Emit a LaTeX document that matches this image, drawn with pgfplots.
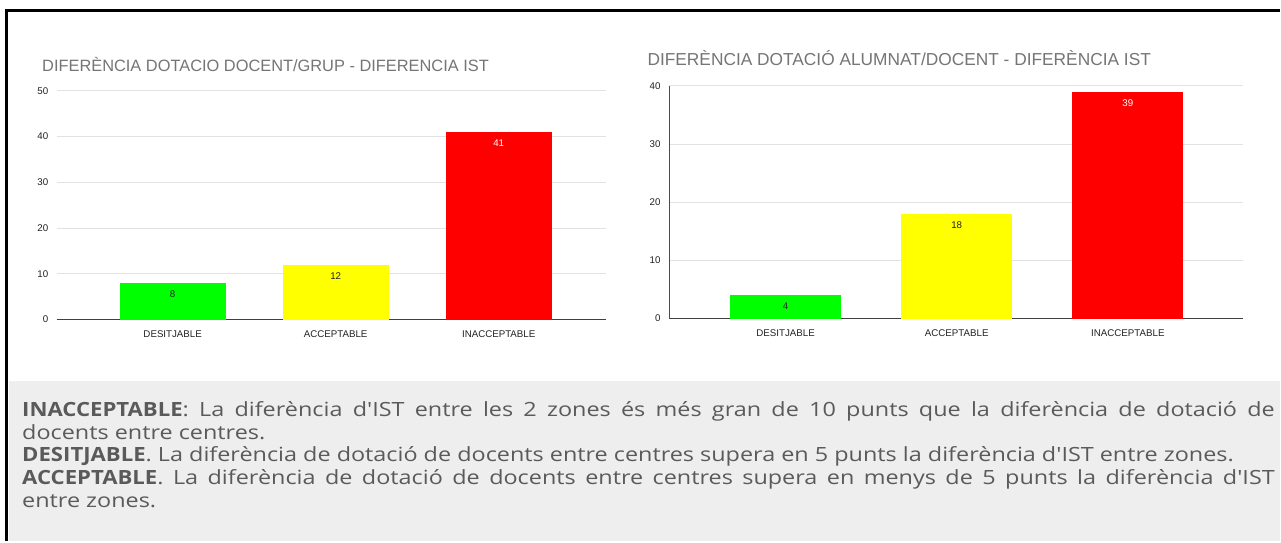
\documentclass[border=0pt]{standalone}
\usepackage{pgfplots}
\pgfplotsset{compat=1.18}
\usepackage{fontspec}
\setmainfont{Liberation Sans}
\newfontfamily\bodyfont[UprightFeatures={FakeStretch=1.195}, BoldFeatures={FakeStretch=1.13}]{Open Sans}
\definecolor{gridc}{HTML}{E2E2E2}
\definecolor{panel}{HTML}{EEEEEE}
\definecolor{titlec}{HTML}{757575}
\definecolor{bodyc}{HTML}{5A5A5A}
\definecolor{tickc}{HTML}{222222}
\definecolor{barG}{HTML}{00FF00}
\definecolor{barY}{HTML}{FFFF00}
\definecolor{barR}{HTML}{FF0000}
\pgfplotsset{
  mychart/.style={
    scale only axis,
    ymin=0,
    axis x line=bottom, axis y line=left,
    axis line style={-},
    x axis line style={draw=black!75, line width=0.8pt},
    ymajorgrids, grid style={gridc, line width=0.6pt},
    xtick={0,1,2},
    xticklabels={DESITJABLE,ACCEPTABLE,INACCEPTABLE},
    major tick length=0pt,
    tick label style={font=\fontsize{7.3}{8.5}\selectfont, text=tickc},
    xticklabel style={yshift=-4.5pt},
    yticklabel style={xshift=-3pt},
    /pgf/number format/assume math mode=true,
    ybar, bar shift=0pt,
    clip=false,
    nodes near coords,
    every node near coord/.style={anchor=center, yshift=-8.25pt, font=\fontsize{7.3}{8.5}\selectfont},
  },
}
\begin{document}
\begin{tikzpicture}
\fill[white] (0,0) rectangle (960.75pt,406.5pt);
\fill[panel] (6.75pt,0) rectangle (960.75pt,120.75pt);
\draw[line width=2.25pt] (4.2pt,398.25pt) -- (960.75pt,398.25pt);
\draw[line width=2.25pt] (5.25pt,399.375pt) -- (5.25pt,0);

\node[anchor=west, text=titlec, inner sep=0pt, font=\fontsize{12.3}{14}\selectfont] at (31.5pt,357.75pt) {DIFERÈNCIA DOTACIO DOCENT/GRUP - DIFERENCIA IST};
\node[anchor=west, text=titlec, inner sep=0pt, font=\fontsize{13}{15}\selectfont] at (486pt,363pt) {DIFERÈNCIA DOTACIÓ ALUMNAT/DOCENT - DIFERÈNCIA IST};

\begin{axis}[mychart, at={(42.75pt,166.5pt)}, anchor=south west,
  width=412.5pt, height=171.75pt, xmin=-0.71, xmax=2.66, ymax=50, ytick={0,10,20,30,40,50},
  y axis line style={draw=none}, bar width=79.5pt]
\addplot[fill=barG, draw=none, every node near coord/.append style={text=tickc}] coordinates {(0,8)};
\addplot[fill=barY, draw=none, every node near coord/.append style={text=tickc}] coordinates {(1,12)};
\addplot[fill=barR, draw=none, every node near coord/.append style={text=white}] coordinates {(2,41)};
\end{axis}

\begin{axis}[mychart, at={(502.5pt,167.25pt)}, anchor=south west,
  width=430.5pt, height=174.75pt, xmin=-0.68, xmax=2.67, ymax=40, ytick={0,10,20,30,40},
  y axis line style={draw=black!70, line width=0.6pt}, bar width=83.25pt]
\addplot[fill=barG, draw=none, every node near coord/.append style={text=tickc}] coordinates {(0,4)};
\addplot[fill=barY, draw=none, every node near coord/.append style={text=tickc}] coordinates {(1,18)};
\addplot[fill=barR, draw=none, every node near coord/.append style={text=white}] coordinates {(2,39)};
\end{axis}

\node[anchor=base west, inner sep=0pt, text width=940.5pt, align=justify, text=bodyc,
  font=\bodyfont\fontsize{14.7}{17}\selectfont] at (16.5pt,93.75pt)
{\textbf{INACCEPTABLE}: La diferència d'IST entre les 2 zones és més gran de 10 punts que la diferència de dotació de\linebreak docents entre centres.\\
\textbf{DESITJABLE}. La diferència de dotació de docents entre centres supera en 5 punts la diferència d'IST entre zones.\\
\textbf{ACCEPTABLE}. La diferència de dotació de docents entre centres supera en menys de 5 punts la diferència d'IST\linebreak entre zones.};
\end{tikzpicture}
\end{document}
